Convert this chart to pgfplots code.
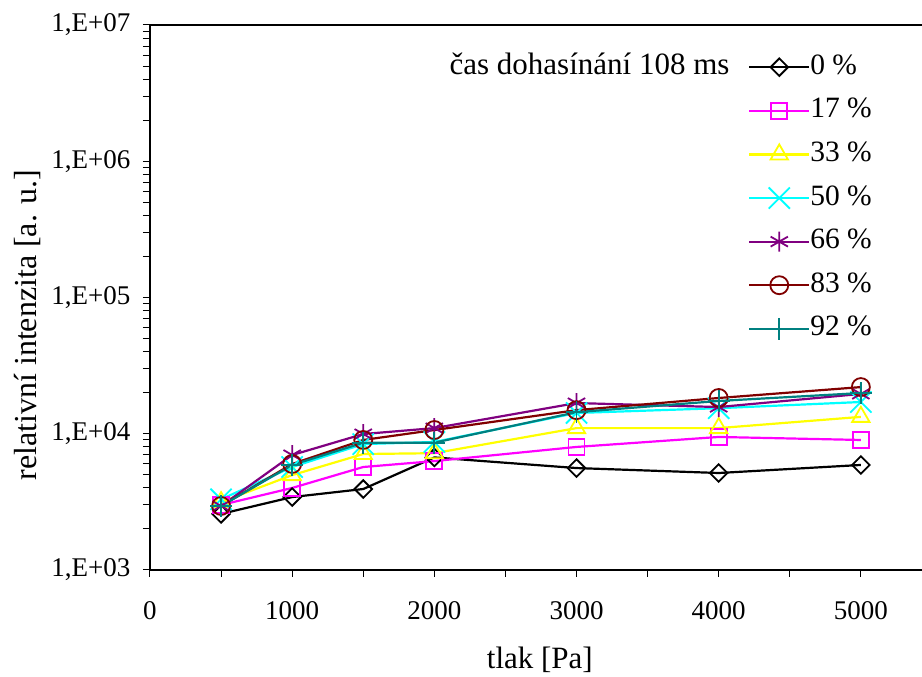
\documentclass[border=0pt]{standalone}
\usepackage{fontspec}
\setmainfont{Liberation Serif}
\usepackage{pgfplots}
\pgfplotsset{compat=1.18}

\definecolor{cMag}{RGB}{255,0,255}
\definecolor{cYel}{RGB}{255,255,0}
\definecolor{cCya}{RGB}{0,255,255}
\definecolor{cPur}{RGB}{128,0,128}
\definecolor{cMar}{RGB}{128,0,0}
\definecolor{cTea}{RGB}{0,128,128}

\begin{document}
\begin{tikzpicture}
\useasboundingbox (0pt,0pt) rectangle (922pt,677pt);
\begin{axis}[
  at={(150pt,107pt)}, anchor=south west,
  scale only axis, width=772pt, height=545pt,
  xmin=0, xmax=5430,
  ymode=log, ymin=1e3, ymax=1e7,
  axis x line*=bottom, axis y line*=left,
  axis line style={line width=1.2pt},
  tick align=outside,
  major tick length=7pt, minor tick length=7pt,
  tick style={black, line width=1pt},
  xtick={0,500,...,5000},
  xticklabels={0,{},1000,{},2000,{},3000,{},4000,{},5000},
  ytick={1e3,1e4,1e5,1e6,1e7},
  yticklabels={{1,E+03},{1,E+04},{1,E+05},{1,E+06},{1,E+07}},
  minor ytick={2e3,3e3,4e3,5e3,6e3,7e3,8e3,9e3,
               2e4,3e4,4e4,5e4,6e4,7e4,8e4,9e4,
               2e5,3e5,4e5,5e5,6e5,7e5,8e5,9e5,
               2e6,3e6,4e6,5e6,6e6,7e6,8e6,9e6},
  ticklabel style={font=\fontsize{27}{31}\selectfont},
  xticklabel style={yshift=-21pt},
  yticklabel style={xshift=-9pt},
  xlabel={tlak [Pa]},
  ylabel={relativní intenzita [a. u.]},
  every axis x label/.style={at={(rel axis cs:0.505,-0.18)}, anchor=base,
    font=\fontsize{31}{36}\selectfont},
  every axis y label/.style={at={(rel axis cs:-0.159,0.4495)}, anchor=center, rotate=90,
    font=\fontsize{32}{37}\selectfont},
  legend style={draw=none, fill=none, anchor=north west,
    at={(rel axis cs:0.7707,0.9486)},
    font=\fontsize{29.5}{34}\selectfont,
    nodes={inner sep=0pt, text height=19pt, text depth=5pt},
    row sep=19.6pt,
    /tikz/every even column/.append style={column sep=9pt},
    cells={anchor=west}},
  legend image code/.code={%
    \draw[mark repeat=2, mark phase=2] plot coordinates {(0pt,0pt) (30pt,0pt) (60pt,0pt)};},
]
% 0 %  (open diamond: a square turned by 45 degrees)
\addplot[black, line width=2.2pt, mark=square, mark size=6.2pt,
  mark options={solid, line width=1.8pt, rotate=45, fill=white}] coordinates
  {(500,2580) (1000,3430) (1500,3930) (2000,6700) (3000,5600) (4000,5150) (5000,5900)};
\addlegendentry{0 \%}
% 17 %
\addplot[cMag, line width=2.2pt, mark=square, mark size=8pt,
  mark options={solid, line width=1.8pt}] coordinates
  {(500,3000) (1000,4000) (1500,5700) (2000,6300) (3000,8000) (4000,9470) (5000,9000)};
\addlegendentry{17 \%}
% 33 %
\addplot[cYel, line width=2.2pt, mark=triangle, mark size=10pt,
  mark options={solid, line width=1.8pt}] coordinates
  {(500,3150) (1000,4970) (1500,7100) (2000,7200) (3000,11000) (4000,11000) (5000,13300)};
\addlegendentry{33 \%}
% 50 %
\addplot[cCya, line width=2.2pt, mark=x, mark size=15pt,
  mark options={solid, line width=1.8pt}] coordinates
  {(500,3300) (1000,5700) (1500,8400) (2000,8700) (3000,14200) (4000,15400) (5000,17100)};
\addlegendentry{50 \%}
% 66 %
\addplot[cPur, line width=2.2pt, mark=asterisk, mark size=10pt,
  mark options={solid, line width=1.8pt}] coordinates
  {(500,2950) (1000,6980) (1500,9950) (2000,11000) (3000,16800) (4000,15700) (5000,19600)};
\addlegendentry{66 \%}
% 83 %
\addplot[cMar, line width=2.2pt, mark=o, mark size=9pt,
  mark options={solid, line width=1.8pt}] coordinates
  {(500,2950) (1000,6000) (1500,9000) (2000,10650) (3000,14900) (4000,18300) (5000,22000)};
\addlegendentry{83 \%}
% 92 %
\addplot[cTea, line width=2.2pt, mark=+, mark size=11pt,
  mark options={solid, line width=1.8pt}] coordinates
  {(500,2950) (1000,5900) (1500,8600) (2000,8600) (3000,14400) (4000,17400) (5000,19900)};
\addlegendentry{92 \%}

\node[anchor=base east, font=\fontsize{31}{36}\selectfont]
  at (rel axis cs:0.7552,0.9083) {čas dohasínání 108 ms};
\draw[line width=1.2pt] (rel axis cs:0,1) -- (rel axis cs:1,1);
\end{axis}
\end{tikzpicture}
\end{document}
